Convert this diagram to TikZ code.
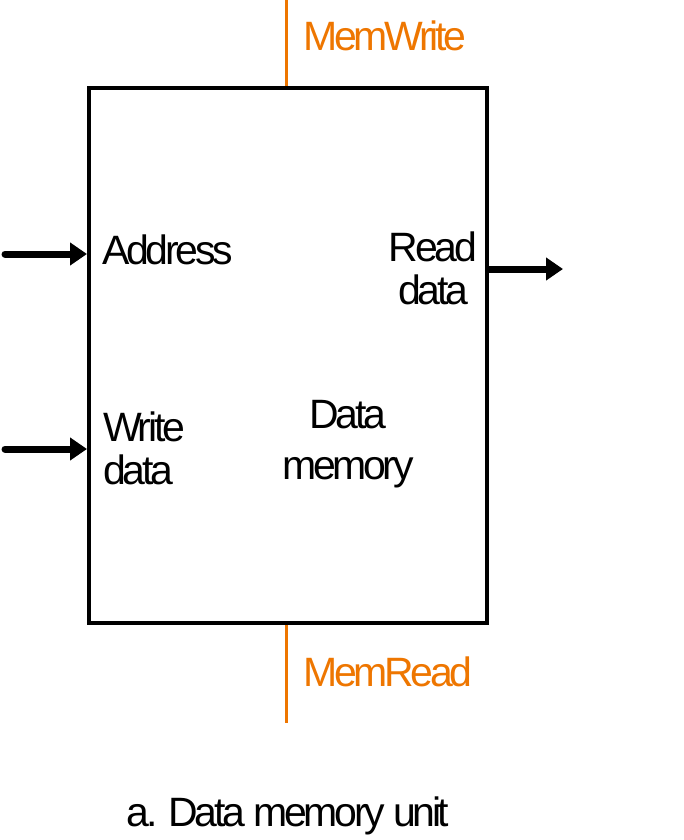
\documentclass[tikz,border=0pt]{standalone}
\usepackage{fontspec}
\setmainfont{Liberation Sans}[LetterSpace=-8]
\usetikzlibrary{arrows.meta,positioning}
\definecolor{ctrlorange}{RGB}{238,118,0}
\begin{document}
\begin{tikzpicture}[x=1pt, y=-1pt,
    lbl/.style={font=\fontsize{41}{43}\selectfont, inner sep=0pt},
    bus/.style={line width=7pt, line cap=round, -{Triangle[length=17pt,width=22pt]}},
    ctrl/.style={draw=ctrlorange, line width=3pt}]
  \useasboundingbox (0,0) rectangle (683,840);
  % memory block
  \node[draw, line width=4pt, minimum width=398pt, minimum height=535pt,
        anchor=north west, inner sep=0pt] (mem) at (87,86) {};
  % port labels
  \node[lbl, anchor=base west] (addr) at (102,264) {Address};
  \node[lbl, anchor=base west, align=left] (wdata) at (103,484) {Write\\data};
  \node[lbl, anchor=base, align=center] (rdata) at (433,304) {Read\\data};
  \node[lbl, anchor=base, align=center] (memname) at (348,479) {Data\\[8pt]memory};
  % control signals
  \node[lbl, anchor=base west, text=ctrlorange] (memwrite) at (303,51) {MemWrite};
  \node[lbl, anchor=base west, text=ctrlorange] (memread) at (303,686) {MemRead};
  \coordinate (wctl) at (286,0);
  \coordinate (rctl) at (286,723);
  \draw[ctrl] (wctl) -- (wctl |- mem.north);
  \draw[ctrl] (rctl |- mem.south) -- (rctl);
  % data buses
  \coordinate (addrin) at (5,254);
  \coordinate (wdin) at (5,449);
  \coordinate (rdout) at (563,269);
  \draw[bus] (addrin) -- (addrin -| mem.west);
  \draw[bus] (wdin) -- (wdin -| mem.west);
  \draw[bus] (mem.east |- rdout) -- (rdout);
  % caption
  \node[lbl, anchor=base] (caption) at (288,826) {a. Data memory unit};
\end{tikzpicture}
\end{document}
